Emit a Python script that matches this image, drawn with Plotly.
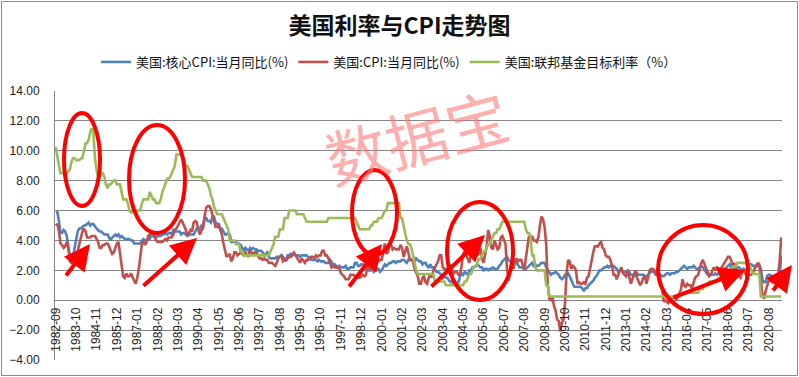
import plotly.graph_objects as go

# ---------------- data (monthly, 1982-09 .. 2021-04) ----------------
core_cpi = [
    5.9, 5.9, 5.3, 4.5,                                              # 1982 Sep-Dec
    4.5, 4.7, 4.6, 4.3, 3.6, 3.0, 2.9, 2.9, 3.5, 4.0, 4.6, 4.8,      # 1983
    4.8, 4.9, 5.0, 5.0, 5.1, 5.2, 5.0, 5.1, 5.1, 4.9, 4.8, 4.7,      # 1984
    4.6, 4.6, 4.5, 4.4, 4.4, 4.4, 4.2, 4.0, 4.2, 4.3, 4.4, 4.3,      # 1985
    4.4, 4.2, 4.3, 4.2, 4.1, 4.1, 4.1, 4.1, 4.0, 4.0, 3.8, 3.8,      # 1986
    3.8, 3.8, 3.8, 4.0, 4.1, 4.0, 4.0, 4.1, 4.1, 4.4, 4.3, 4.2,      # 1987
    4.2, 4.3, 4.3, 4.3, 4.4, 4.4, 4.5, 4.4, 4.5, 4.5, 4.4, 4.7,      # 1988
    4.6, 4.6, 4.6, 4.6, 4.4, 4.5, 4.5, 4.4, 4.3, 4.4, 4.4, 4.4,      # 1989
    4.4, 4.6, 4.8, 4.8, 4.8, 5.0, 5.0, 5.5, 5.5, 5.3, 5.3, 5.2,      # 1990
    5.6, 5.6, 5.2, 5.1, 5.1, 4.8, 4.8, 4.6, 4.4, 4.4, 4.5, 4.4,      # 1991
    3.9, 3.9, 3.9, 3.9, 3.8, 3.8, 3.7, 3.5, 3.3, 3.5, 3.4, 3.3,      # 1992
    3.5, 3.4, 3.5, 3.4, 3.4, 3.3, 3.3, 3.3, 3.2, 3.0, 3.1, 3.2,      # 1993
    2.9, 2.8, 2.8, 2.8, 2.8, 2.9, 2.9, 2.9, 3.0, 2.9, 2.8, 2.6,      # 1994
    3.0, 3.0, 3.1, 3.0, 3.1, 3.0, 3.0, 3.0, 2.9, 3.0, 3.0, 3.0,      # 1995
    3.0, 2.9, 2.8, 2.7, 2.7, 2.7, 2.7, 2.6, 2.7, 2.6, 2.6, 2.6,      # 1996
    2.5, 2.5, 2.5, 2.7, 2.5, 2.4, 2.4, 2.3, 2.2, 2.3, 2.2, 2.2,      # 1997
    2.2, 2.3, 2.1, 2.1, 2.2, 2.2, 2.2, 2.5, 2.5, 2.3, 2.3, 2.4,      # 1998
    2.4, 2.1, 2.1, 2.2, 2.0, 2.1, 2.1, 1.9, 2.0, 2.1, 2.1, 1.9,      # 1999
    2.0, 2.2, 2.4, 2.3, 2.4, 2.5, 2.5, 2.6, 2.6, 2.5, 2.6, 2.6,      # 2000
    2.6, 2.7, 2.7, 2.6, 2.5, 2.7, 2.7, 2.7, 2.6, 2.6, 2.8, 2.7,      # 2001
    2.6, 2.6, 2.4, 2.5, 2.5, 2.3, 2.2, 2.4, 2.2, 2.2, 2.0, 1.9,      # 2002
    1.9, 1.8, 1.7, 1.5, 1.6, 1.5, 1.5, 1.3, 1.2, 1.3, 1.1, 1.1,      # 2003
    1.1, 1.2, 1.6, 1.8, 1.7, 1.9, 1.8, 1.7, 2.0, 2.0, 2.2, 2.2,      # 2004
    2.3, 2.4, 2.3, 2.2, 2.2, 2.0, 2.1, 2.1, 2.0, 2.1, 2.1, 2.2,      # 2005
    2.1, 2.1, 2.1, 2.3, 2.4, 2.6, 2.7, 2.8, 2.9, 2.7, 2.6, 2.6,      # 2006
    2.7, 2.7, 2.5, 2.3, 2.2, 2.2, 2.2, 2.1, 2.1, 2.2, 2.3, 2.4,      # 2007
    2.5, 2.3, 2.4, 2.3, 2.3, 2.4, 2.5, 2.5, 2.5, 2.2, 2.0, 1.8,      # 2008
    1.7, 1.8, 1.8, 1.9, 1.8, 1.7, 1.5, 1.4, 1.5, 1.7, 1.7, 1.8,      # 2009
    1.6, 1.3, 1.1, 0.9, 0.9, 0.9, 0.9, 0.9, 0.8, 0.6, 0.8, 0.8,      # 2010
    1.0, 1.1, 1.2, 1.3, 1.5, 1.6, 1.8, 2.0, 2.0, 2.1, 2.2, 2.2,      # 2011
    2.3, 2.2, 2.3, 2.3, 2.3, 2.2, 2.1, 1.9, 2.0, 2.0, 1.9, 1.9,      # 2012
    1.9, 2.0, 1.9, 1.7, 1.7, 1.6, 1.7, 1.8, 1.7, 1.7, 1.7, 1.7,      # 2013
    1.6, 1.6, 1.7, 1.8, 2.0, 1.9, 1.9, 1.7, 1.7, 1.8, 1.7, 1.6,      # 2014
    1.6, 1.7, 1.8, 1.8, 1.7, 1.8, 1.8, 1.8, 1.9, 1.9, 2.0, 2.1,      # 2015
    2.2, 2.3, 2.2, 2.1, 2.2, 2.2, 2.2, 2.3, 2.2, 2.1, 2.1, 2.2,      # 2016
    2.3, 2.2, 2.0, 1.9, 1.7, 1.7, 1.7, 1.7, 1.7, 1.8, 1.7, 1.8,      # 2017
    1.8, 1.8, 2.1, 2.1, 2.2, 2.3, 2.4, 2.2, 2.2, 2.1, 2.2, 2.2,      # 2018
    2.2, 2.1, 2.0, 2.1, 2.0, 2.1, 2.2, 2.4, 2.4, 2.3, 2.3, 2.3,      # 2019
    2.3, 2.4, 2.1, 1.4, 1.2, 1.2, 1.6, 1.7, 1.7, 1.6, 1.6, 1.6,      # 2020
    1.4, 1.3, 1.6, 3.0,                                              # 2021 Jan-Apr
]

cpi = [
    5.0, 5.1, 4.6, 3.8,                                              # 1982 Sep-Dec
    3.7, 3.5, 3.6, 3.9, 3.5, 2.6, 2.5, 2.6, 2.9, 2.9, 3.3, 3.8,      # 1983
    4.2, 4.6, 4.8, 4.6, 4.2, 4.2, 4.2, 4.3, 4.3, 4.3, 4.1, 3.9,      # 1984
    3.5, 3.5, 3.7, 3.7, 3.8, 3.8, 3.6, 3.3, 3.1, 3.2, 3.5, 3.8,      # 1985
    3.9, 3.1, 2.2, 1.6, 1.5, 1.8, 1.6, 1.6, 1.8, 1.5, 1.3, 1.1,      # 1986
    1.5, 2.1, 3.0, 3.8, 3.9, 3.7, 3.9, 4.3, 4.4, 4.5, 4.5, 4.4,      # 1987
    4.0, 3.9, 3.9, 3.9, 3.9, 4.0, 4.1, 4.0, 4.2, 4.2, 4.2, 4.4,      # 1988
    4.7, 4.8, 5.0, 5.1, 5.4, 5.2, 5.0, 4.7, 4.3, 4.5, 4.7, 4.6,      # 1989
    5.2, 5.3, 5.2, 4.7, 4.4, 4.7, 4.8, 5.6, 6.2, 6.3, 6.3, 6.1,      # 1990
    5.7, 5.3, 4.9, 4.9, 5.0, 4.7, 4.4, 3.8, 3.4, 2.9, 3.0, 3.1,      # 1991
    2.6, 2.8, 3.2, 3.2, 3.0, 3.1, 3.2, 3.1, 3.0, 3.2, 3.0, 2.9,      # 1992
    3.3, 3.2, 3.1, 3.2, 3.2, 3.0, 2.8, 2.8, 2.7, 2.8, 2.7, 2.7,      # 1993
    2.5, 2.5, 2.5, 2.4, 2.3, 2.5, 2.8, 2.9, 3.0, 2.6, 2.7, 2.7,      # 1994
    2.8, 2.9, 2.9, 3.1, 3.2, 3.0, 2.8, 2.6, 2.5, 2.8, 2.6, 2.5,      # 1995
    2.7, 2.7, 2.8, 2.9, 2.9, 2.8, 3.0, 2.9, 3.0, 3.0, 3.3, 3.3,      # 1996
    3.0, 3.0, 2.8, 2.5, 2.2, 2.3, 2.2, 2.2, 2.2, 2.1, 1.8, 1.7,      # 1997
    1.6, 1.4, 1.4, 1.4, 1.7, 1.7, 1.7, 1.6, 1.5, 1.5, 1.5, 1.6,      # 1998
    1.7, 1.6, 1.7, 2.3, 2.1, 2.0, 2.1, 2.3, 2.6, 2.6, 2.6, 2.7,      # 1999
    2.7, 3.2, 3.8, 3.1, 3.2, 3.7, 3.7, 3.4, 3.5, 3.4, 3.4, 3.4,      # 2000
    3.7, 3.5, 2.9, 3.3, 3.6, 3.2, 2.7, 2.7, 2.6, 2.1, 1.9, 1.6,      # 2001
    1.1, 1.1, 1.5, 1.6, 1.2, 1.1, 1.5, 1.8, 1.5, 2.0, 2.2, 2.4,      # 2002
    2.6, 3.0, 3.0, 2.2, 2.1, 2.1, 2.1, 2.2, 2.3, 2.0, 1.8, 1.9,      # 2003
    1.9, 1.7, 1.7, 2.3, 3.1, 3.3, 3.0, 2.7, 2.5, 3.2, 3.5, 3.3,      # 2004
    3.0, 3.0, 3.1, 3.5, 2.8, 2.5, 3.2, 3.6, 4.7, 4.3, 3.5, 3.4,      # 2005
    4.0, 3.6, 3.4, 3.5, 4.2, 4.3, 4.1, 3.8, 2.1, 1.3, 2.0, 2.5,      # 2006
    2.1, 2.4, 2.8, 2.6, 2.7, 2.7, 2.4, 2.0, 2.8, 3.5, 4.3, 4.1,      # 2007
    4.3, 4.0, 4.0, 3.9, 4.2, 5.0, 5.6, 5.4, 4.9, 3.7, 1.1, 0.1,      # 2008
    0.0, 0.2, -0.4, -0.7, -1.3, -1.4, -2.1, -1.5, -1.3, -0.2, 1.8, 2.7,  # 2009
    2.6, 2.1, 2.3, 2.2, 2.0, 1.1, 1.2, 1.1, 1.1, 1.2, 1.1, 1.5,      # 2010
    1.6, 2.1, 2.7, 3.2, 3.6, 3.6, 3.6, 3.8, 3.9, 3.5, 3.4, 3.0,      # 2011
    2.9, 2.9, 2.7, 2.3, 1.7, 1.7, 1.4, 1.7, 2.0, 2.2, 1.8, 1.7,      # 2012
    1.6, 2.0, 1.5, 1.1, 1.4, 1.8, 2.0, 1.5, 1.2, 1.0, 1.2, 1.5,      # 2013
    1.6, 1.1, 1.5, 2.0, 2.1, 2.1, 2.0, 1.7, 1.7, 1.7, 1.3, 0.8,      # 2014
    -0.1, 0.0, -0.1, -0.2, 0.0, 0.1, 0.2, 0.2, 0.0, 0.2, 0.5, 0.7,   # 2015
    1.4, 1.0, 0.9, 1.1, 1.0, 1.0, 0.8, 1.1, 1.5, 1.6, 1.7, 2.1,      # 2016
    2.5, 2.7, 2.4, 2.2, 1.9, 1.6, 1.7, 1.9, 2.2, 2.0, 2.2, 2.1,      # 2017
    2.1, 2.2, 2.4, 2.5, 2.8, 2.9, 2.9, 2.7, 2.3, 2.5, 2.2, 1.9,      # 2018
    1.6, 1.5, 1.9, 2.0, 1.8, 1.6, 1.8, 1.7, 1.7, 1.8, 2.1, 2.3,      # 2019
    2.5, 2.3, 1.5, 0.3, 0.1, 0.6, 1.0, 1.3, 1.4, 1.2, 1.2, 1.4,      # 2020
    1.4, 1.7, 2.6, 4.2,                                              # 2021 Jan-Apr
]

fed_target = [
    10.25, 9.5, 9.0, 8.5,                                                    # 1982 Sep-Dec
    8.5, 8.5, 8.5, 8.5, 8.625, 8.75, 9.25, 9.5, 9.5, 9.375, 9.375, 9.375,    # 1983
    9.5, 9.5, 10.0, 10.5, 10.5, 10.75, 11.25, 11.5, 11.25, 9.5, 8.75, 8.25,  # 1984
    8.25, 8.5, 8.5, 8.25, 7.75, 7.5, 7.75, 7.75, 7.875, 8.0, 8.0, 7.75,      # 1985
    7.75, 7.75, 7.25, 6.75, 6.75, 6.75, 6.5, 6.0, 5.875, 5.875, 5.875, 6.0,  # 1986
    6.0, 6.0, 6.0, 6.5, 6.75, 6.75, 6.75, 6.75, 7.25, 7.0, 6.75, 6.75,       # 1987
    6.5, 6.5, 6.5, 6.75, 7.25, 7.5, 7.75, 8.125, 8.125, 8.25, 8.5, 8.75,     # 1988
    9.0, 9.75, 9.75, 9.75, 9.75, 9.5, 9.25, 9.0, 9.0, 8.75, 8.5, 8.25,       # 1989
    8.25, 8.25, 8.25, 8.25, 8.25, 8.25, 8.0, 8.0, 8.0, 7.75, 7.5, 7.0,       # 1990
    6.75, 6.25, 6.0, 5.75, 5.75, 5.75, 5.75, 5.5, 5.25, 5.0, 4.75, 4.0,      # 1991
    4.0, 4.0, 4.0, 3.75, 3.75, 3.75, 3.25, 3.25, 3.0, 3.0, 3.0, 3.0,         # 1992
    3.0, 3.0, 3.0, 3.0, 3.0, 3.0, 3.0, 3.0, 3.0, 3.0, 3.0, 3.0,              # 1993
    3.0, 3.25, 3.5, 3.75, 4.25, 4.25, 4.25, 4.75, 4.75, 4.75, 5.5, 5.5,      # 1994
    5.5, 6.0, 6.0, 6.0, 6.0, 6.0, 5.75, 5.75, 5.75, 5.75, 5.75, 5.5,         # 1995
    5.25, 5.25, 5.25, 5.25, 5.25, 5.25, 5.25, 5.25, 5.25, 5.25, 5.25, 5.25,  # 1996
    5.25, 5.25, 5.5, 5.5, 5.5, 5.5, 5.5, 5.5, 5.5, 5.5, 5.5, 5.5,            # 1997
    5.5, 5.5, 5.5, 5.5, 5.5, 5.5, 5.5, 5.5, 5.25, 5.0, 4.75, 4.75,           # 1998
    4.75, 4.75, 4.75, 4.75, 4.75, 5.0, 5.0, 5.25, 5.25, 5.25, 5.5, 5.5,      # 1999
    5.5, 5.75, 6.0, 6.0, 6.5, 6.5, 6.5, 6.5, 6.5, 6.5, 6.5, 6.5,             # 2000
    5.5, 5.5, 5.0, 4.5, 4.0, 3.75, 3.75, 3.5, 3.0, 2.5, 2.0, 1.75,           # 2001
    1.75, 1.75, 1.75, 1.75, 1.75, 1.75, 1.75, 1.75, 1.75, 1.75, 1.25, 1.25,  # 2002
    1.25, 1.25, 1.25, 1.25, 1.25, 1.0, 1.0, 1.0, 1.0, 1.0, 1.0, 1.0,         # 2003
    1.0, 1.0, 1.0, 1.0, 1.0, 1.25, 1.25, 1.5, 1.75, 1.75, 2.0, 2.25,         # 2004
    2.25, 2.5, 2.75, 2.75, 3.0, 3.25, 3.25, 3.5, 3.75, 3.75, 4.0, 4.25,      # 2005
    4.5, 4.5, 4.75, 4.75, 5.0, 5.25, 5.25, 5.25, 5.25, 5.25, 5.25, 5.25,     # 2006
    5.25, 5.25, 5.25, 5.25, 5.25, 5.25, 5.25, 5.25, 4.75, 4.5, 4.5, 4.25,    # 2007
    3.0, 3.0, 2.25, 2.0, 2.0, 2.0, 2.0, 2.0, 2.0, 1.0, 1.0, 0.25,            # 2008
    0.25, 0.25, 0.25, 0.25, 0.25, 0.25, 0.25, 0.25, 0.25, 0.25, 0.25, 0.25,  # 2009
    0.25, 0.25, 0.25, 0.25, 0.25, 0.25, 0.25, 0.25, 0.25, 0.25, 0.25, 0.25,  # 2010
    0.25, 0.25, 0.25, 0.25, 0.25, 0.25, 0.25, 0.25, 0.25, 0.25, 0.25, 0.25,  # 2011
    0.25, 0.25, 0.25, 0.25, 0.25, 0.25, 0.25, 0.25, 0.25, 0.25, 0.25, 0.25,  # 2012
    0.25, 0.25, 0.25, 0.25, 0.25, 0.25, 0.25, 0.25, 0.25, 0.25, 0.25, 0.25,  # 2013
    0.25, 0.25, 0.25, 0.25, 0.25, 0.25, 0.25, 0.25, 0.25, 0.25, 0.25, 0.25,  # 2014
    0.25, 0.25, 0.25, 0.25, 0.25, 0.25, 0.25, 0.25, 0.25, 0.25, 0.25, 0.5,   # 2015
    0.5, 0.5, 0.5, 0.5, 0.5, 0.5, 0.5, 0.5, 0.5, 0.5, 0.5, 0.75,             # 2016
    0.75, 0.75, 1.0, 1.0, 1.0, 1.25, 1.25, 1.25, 1.25, 1.25, 1.25, 1.5,      # 2017
    1.5, 1.5, 1.75, 1.75, 1.75, 2.0, 2.0, 2.0, 2.25, 2.25, 2.25, 2.5,        # 2018
    2.5, 2.5, 2.5, 2.5, 2.5, 2.5, 2.5, 2.25, 2.0, 1.75, 1.75, 1.75,          # 2019
    1.75, 1.75, 0.25, 0.25, 0.25, 0.25, 0.25, 0.25, 0.25, 0.25, 0.25, 0.25,  # 2020
    0.25, 0.25, 0.25, 0.25,                                                  # 2021 Jan-Apr
]

tick_labels = [
    "1982-09", "1983-10", "1984-11", "1985-12", "1987-01", "1988-02",
    "1989-03", "1990-04", "1991-05", "1992-06", "1993-07", "1994-08",
    "1995-09", "1996-10", "1997-11", "1998-12", "2000-01", "2001-02",
    "2002-03", "2003-04", "2004-05", "2005-06", "2006-07", "2007-08",
    "2008-09", "2009-10", "2010-11", "2011-12", "2013-01", "2014-02",
    "2015-03", "2016-04", "2017-05", "2018-06", "2019-07", "2020-08",
]
tick_step = 13  # one label every 13 months

series_names = ["美国:核心CPI:当月同比(%)", "美国:CPI:当月同比(%)", "美国:联邦基金目标利率（%）"]
series_colors = ["#4F81BD", "#C0504D", "#9BBB59"]

# ---------------- layout geometry ----------------
W, H = 799, 377
L, R, T, B = 55, 17, 91, 17
PW, PH = W - L - R, H - T - B


def px(x):
    return (x - L) / PW


def py(y):
    return (H - B - y) / PH


n = len(cpi)
idx = list(range(n))

fig = go.Figure()
for name, vals, col in zip(series_names, [core_cpi, cpi, fed_target], series_colors):
    fig.add_trace(go.Scatter(x=idx, y=vals, mode="lines", name=name,
                             line=dict(color=col, width=2.6)))

grid = "#868686"
fig.update_layout(
    width=W, height=H,
    margin=dict(l=L, r=R, t=T, b=B, autoexpand=False),
    paper_bgcolor="white", plot_bgcolor="white",
    font=dict(family="Liberation Sans, Noto Sans CJK SC, sans-serif", size=12, color="#222"),
    title=dict(text="<b>美国利率与CPI走势图</b>", x=0.5, xref="container", xanchor="center",
               y=1 - 26 / H, yref="container", yanchor="middle",
               font=dict(family="Noto Sans CJK SC", size=23, color="#111")),
    legend=dict(orientation="h", x=px(389), xanchor="center", y=py(62), yanchor="middle",
                font=dict(family="Noto Sans CJK SC", size=13, color="#111"),
                itemwidth=30, bgcolor="rgba(0,0,0,0)"),
    showlegend=True,
    xaxis=dict(range=[-0.5, n - 0.5], anchor="free", position=4 / 18,
               tickvals=[i * tick_step for i in range(len(tick_labels))],
               ticktext=tick_labels, tickangle=-90, showgrid=False, showline=False,
               zeroline=False, ticks="", ticklabelstandoff=4, automargin=False,
               tickfont=dict(family="Liberation Sans", size=12, color="#222")),
    yaxis=dict(range=[-4, 14], dtick=2, tick0=0, tickformat=".2f", showgrid=True,
               gridcolor=grid, gridwidth=1, zeroline=False, showline=True,
               linecolor=grid, linewidth=1, ticks="", ticklabelstandoff=12,
               automargin=False,
               tickfont=dict(family="Liberation Sans", size=12, color="#222")),
)

# outer chart border
fig.add_shape(type="rect", xref="paper", yref="paper",
              x0=px(1.5), x1=px(797.5), y0=py(375.5), y1=py(1.5),
              line=dict(color="#8c8c8c", width=1), layer="below")

# watermark
fig.add_annotation(text="数据宝", xref="paper", yref="paper", x=px(416), y=py(135),
                   xanchor="center", yanchor="middle",
                   showarrow=False, textangle=-15,
                   font=dict(family="Noto Sans CJK SC", size=62, color="rgba(255,120,120,0.6)"))

# red ellipses (decorative highlights)
ellipses = [(64, 113, 100, 206), (129, 125, 185, 233), (352, 170, 397, 255),
            (447, 202, 513, 300), (658, 225, 748, 314)]
for x0, y0, x1, y1 in ellipses:
    fig.add_shape(type="circle", xref="paper", yref="paper",
                  x0=px(x0), x1=px(x1), y0=py(y1), y1=py(y0),
                  line=dict(color="#FF0000", width=4))

# red arrows (tail -> head, in pixels)
arrows = [((65, 277), (90, 244)), ((142, 287), (197, 238)), ((348, 288), (382, 244)),
          ((430, 288), (485, 235)), ((672, 298), (745, 270)), ((772, 292), (792, 265))]
for (tx, ty), (hx, hy) in arrows:
    fig.add_annotation(text="", xref="paper", yref="paper", x=px(hx), y=py(hy),
                       ax=tx - hx, ay=ty - hy, showarrow=True,
                       arrowhead=2, arrowsize=1.3, arrowwidth=4, arrowcolor="#FF0000")

fig.write_html("out.html", post_script="document.body.style.margin='0';",
               config={"displayModeBar": False})
